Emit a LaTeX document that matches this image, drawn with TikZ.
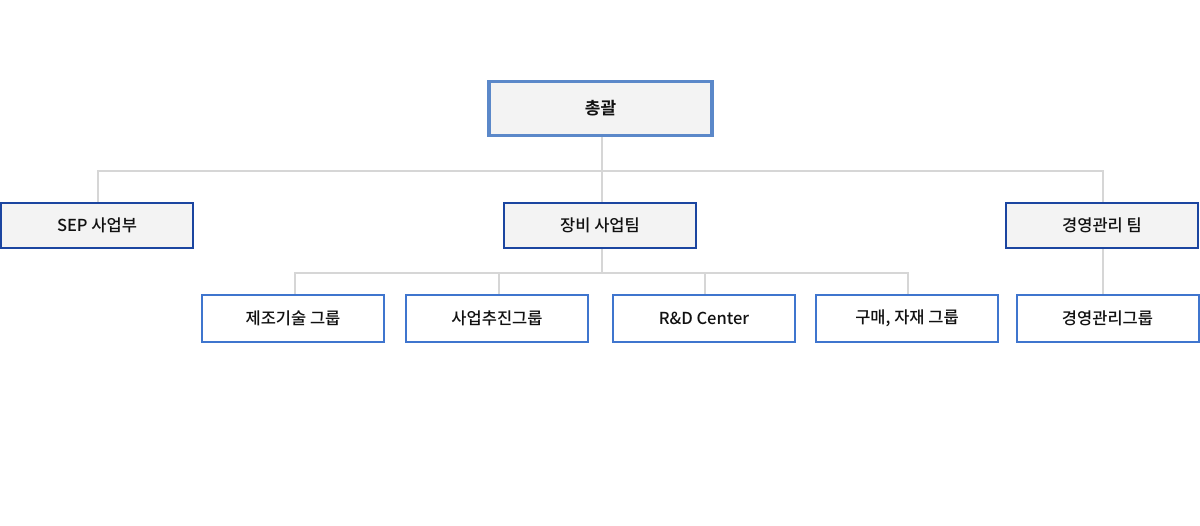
\documentclass[tikz,border=0pt]{standalone}
\usepackage{fontspec}
\setmainfont{Noto Sans CJK KR}[UprightFont={* Medium},BoldFont={* Bold}]
\definecolor{linegray}{HTML}{D6D6D6}
\definecolor{topblue}{HTML}{5B88C9}
\definecolor{darkblue}{HTML}{1B45A0}
\definecolor{midblue}{HTML}{3F75CE}
\definecolor{boxfill}{HTML}{F3F3F3}
\definecolor{txt}{HTML}{111111}
\begin{document}
\begin{tikzpicture}[x=1pt,y=-1pt,
  conn/.style={draw=linegray,line width=1.2pt},
  topbox/.style={draw=topblue,line width=3.5pt,fill=boxfill,minimum width=223pt,minimum height=54pt,inner sep=0pt,text=txt,font=\fontsize{17}{19}\selectfont\bfseries},
  lvtwo/.style={draw=darkblue,line width=2.2pt,fill=boxfill,minimum width=192pt,minimum height=45pt,inner sep=0pt,text=txt,font=\fontsize{16.5}{18}\selectfont},
  lvthree/.style={draw=midblue,line width=2pt,fill=white,minimum width=182pt,minimum height=47pt,inner sep=0pt,text=txt,font=\fontsize{16.5}{18}\selectfont}]
\useasboundingbox (0,0) rectangle (1200,526);
% level 1
\node[topbox] (top) at (600.5,108.5) {총괄};
% level 2
\node[lvtwo] (sep) at (97,225.5) {SEP 사업부};
\node[lvtwo] (jang) at (600,225.5) {장비 사업팀};
\node[lvtwo] (gy) at (1102,225.5) {경영관리 팀};
% level 3
\node[lvthree] (a) at (293,318.5) {제조기술 그룹};
\node[lvthree] (b) at (497,318.5) {사업추진그룹};
\node[lvthree] (c) at (704,318.5) {R\&D Center};
\node[lvthree] (d) at (907,318.5) {구매, 자재 그룹};
\node[lvthree] (e) at (1107.5,318.5) {경영관리그룹};
% connector junctions
\coordinate (j1) at (602,171);
\coordinate (j2) at (602,273);
% level 1 -> 2
\draw[conn] (top.south -| j1) -- (j1);
\draw[conn] (sep.north -| 98,0) |- (j1) -| (gy.north -| 1103,0);
\draw[conn] (j1) -- (jang.north -| j1);
% level 2 -> 3
\draw[conn] (jang.south -| j2) -- (j2);
\draw[conn] (a.north -| 295,0) |- (j2) -| (d.north -| 908,0);
\draw[conn] (b.north -| 499,0) -- (499,273);
\draw[conn] (c.north -| 705,0) -- (705,273);
\draw[conn] (gy.south -| 1103,0) -- (e.north -| 1103,0);
\end{tikzpicture}
\end{document}
